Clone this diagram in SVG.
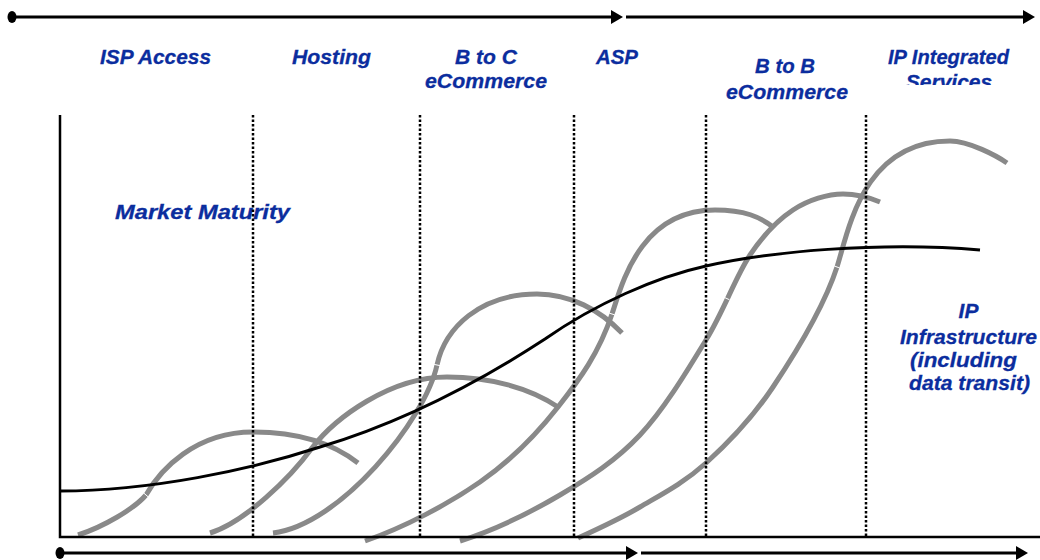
<svg xmlns="http://www.w3.org/2000/svg" width="1040" height="560" viewBox="0 0 1040 560">
  <style>
    .lbl { font-family: "Liberation Sans", Arial, sans-serif; font-size: 21px; font-weight: bold; font-style: italic; fill: #0b2d9e; stroke: #0b2d9e; stroke-width: 0.3; text-anchor: middle; }
    .cycle { fill: none; stroke: #898989; stroke-width: 5; }
    .trend { fill: none; stroke: #000; stroke-width: 3; }
    .joint { stroke: #fff; stroke-width: 1; }
    .divider { stroke: #000; stroke-width: 2.5; stroke-dasharray: 2.5 2; }
    .axis { stroke: #000; stroke-width: 2.5; fill: none; }
    .timeline { stroke: #000; stroke-width: 3; marker-end: url(#head); }
  </style>
  <defs>
    <marker id="head" viewBox="0 0 12 14" refX="1" refY="7" markerWidth="12" markerHeight="14" markerUnits="userSpaceOnUse" orient="auto">
      <path d="M0,0 L12,7 L0,14 z" fill="#000"/>
    </marker>
    <clipPath id="topClip">
      <rect x="0" y="0" width="1040" height="85"/>
    </clipPath>
  </defs>

  <rect width="1040" height="560" fill="#fff"/>

  <!-- life-cycle curves -->
  <g id="connectors">
    <g id="cycles">
      <path class="cycle" d="M78,535 C103,527 134,509 146,495 C160,470 195,432 253,432 C300,432 335,445 358,463"/>
      <path class="cycle" d="M210,533 C245,522 290,478 312,448 C335,418 390,377 447,377 C490,377 530,388 558,407"/>
      <path class="cycle" d="M273,533 C340,525 425,420 437,365 C445,328 480,294 537,294 C570,294 600,310 622,333"/>
      <path class="cycle" d="M365,541 C405,527 447.8,504.3 480,482 C512.2,459.7 536,435 558,407 C580,379 599,353 612,314 C622,284 640,210 715,210 C745,210 760,217 773,227"/>
      <path class="cycle" d="M460,541 C495,530 530,512.7 560,495 C590,477.3 615.7,460.8 640,435 C664.3,409.2 687.7,370 706,340 C724.3,310 735.5,276.7 750,255 C764.5,233.3 777.5,220.2 793,210 C808.5,199.8 828,194 843,194 C858,194 868,197 880,202"/>
      <path class="cycle" d="M578,538 C600,528 618.7,519.5 640,507 C661.3,494.5 683.8,483 706,463 C728.2,443 751.2,419.7 773,387 C794.8,354.3 824,307 837,267 C848,233 862,141 950,141 C969,141 997,156 1007,163"/>
      <line class="joint" x1="143.7" y1="493" x2="148.3" y2="497"/>
      <line class="joint" x1="434.1" y1="364.4" x2="439.9" y2="365.6"/>
      <line class="joint" x1="609.2" y1="313.1" x2="614.8" y2="314.9"/>
      <line class="joint" x1="724" y1="297.3" x2="729.4" y2="299.7"/>
      <line class="joint" x1="834.2" y1="265.9" x2="839.8" y2="268.1"/>
    </g>
    <!-- infrastructure trend -->
    <path id="trend" class="trend" d="M60,491 C150,491 250,470 320,447 C395,424.5 470,388 545,339 C595,304 656,277 706,266 C766,252 880,241 980,250"/>
  </g>

  <!-- phase labels -->
  <g id="labels">
    <text class="lbl" x="155.5" y="64" textLength="111" lengthAdjust="spacingAndGlyphs">ISP Access</text>
    <text class="lbl" x="331.5" y="64" textLength="79" lengthAdjust="spacingAndGlyphs">Hosting</text>
    <text class="lbl" x="486" y="64" textLength="62" lengthAdjust="spacingAndGlyphs">B to C</text>
    <text class="lbl" x="486" y="88" textLength="122" lengthAdjust="spacingAndGlyphs">eCommerce</text>
    <text class="lbl" x="617" y="64" textLength="42" lengthAdjust="spacingAndGlyphs">ASP</text>
    <text class="lbl" x="785" y="73" textLength="60" lengthAdjust="spacingAndGlyphs">B to B</text>
    <text class="lbl" x="787" y="99" textLength="122" lengthAdjust="spacingAndGlyphs">eCommerce</text>
    <g clip-path="url(#topClip)">
      <text class="lbl" x="948.5" y="64" textLength="121" lengthAdjust="spacingAndGlyphs">IP Integrated</text>
      <text class="lbl" x="949" y="89">Services</text>
    </g>
    <text class="lbl" x="202.5" y="219" font-size="22" textLength="175" lengthAdjust="spacingAndGlyphs">Market Maturity</text>
    <text class="lbl" x="968.5" y="318">IP</text>
    <text class="lbl" x="968.5" y="344" textLength="137" lengthAdjust="spacingAndGlyphs">Infrastructure</text>
    <text class="lbl" x="963.5" y="367" textLength="107" lengthAdjust="spacingAndGlyphs">(including</text>
    <text class="lbl" x="969.5" y="390" textLength="121" lengthAdjust="spacingAndGlyphs">data transit)</text>
  </g>

  <!-- phase dividers -->
  <g id="dividers">
    <line class="divider" x1="253" y1="115" x2="253" y2="537"/>
    <line class="divider" x1="420" y1="115" x2="420" y2="537"/>
    <line class="divider" x1="574" y1="115" x2="574" y2="537"/>
    <line class="divider" x1="706" y1="115" x2="706" y2="537"/>
    <line class="divider" x1="866" y1="115" x2="866" y2="537"/>
  </g>

  <!-- axes -->
  <g id="axes">
    <path class="axis" d="M60,115 L60,537 L1040,537"/>
  </g>

  <!-- top timeline -->
  <g id="timeline-top">
    <ellipse cx="12" cy="17" rx="4.5" ry="6" fill="#000"/>
    <line class="timeline" x1="12" y1="17" x2="612" y2="17"/>
    <line class="timeline" x1="626" y1="17" x2="1024" y2="17"/>
  </g>

  <!-- bottom timeline -->
  <g id="timeline-bottom">
    <ellipse cx="60" cy="553" rx="4.5" ry="6" fill="#000"/>
    <line class="timeline" x1="60" y1="553" x2="627" y2="553"/>
    <line class="timeline" x1="641" y1="553" x2="1017" y2="553"/>
  </g>
</svg>
